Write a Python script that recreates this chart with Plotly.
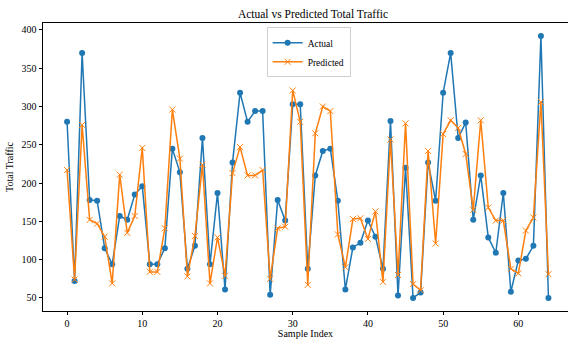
import plotly.graph_objects as go

sample_index = list(range(65))
actual = [280, 72, 370, 178, 177, 115, 94, 157, 152, 185,
          196, 94, 94, 115, 245, 214, 88, 118, 259, 94,
          187, 61, 227, 318, 280, 294, 294, 54, 178, 151,
          303, 303, 88, 210, 242, 245, 177, 61, 116, 122,
          151, 130, 88, 281, 53, 220, 50, 57, 227, 177,
          318, 370, 259, 279, 152, 210, 129, 109, 187, 58,
          99, 101, 118, 392, 50]
predicted = [217, 74, 276, 152, 147, 130, 69, 211, 135, 157,
             246, 84, 84, 141, 296, 232, 78, 131, 224, 69,
             129, 79, 213, 247, 210, 210, 217, 75, 141, 143,
             321, 280, 67, 265, 300, 294, 133, 90, 153, 154,
             127, 163, 71, 257, 80, 278, 68, 60, 242, 121,
             264, 282, 272, 238, 165, 282, 168, 151, 151, 88,
             82, 138, 155, 306, 81]
y_ticks = [50, 100, 150, 200, 250, 300, 350, 400]
x_ticks = [0, 10, 20, 30, 40, 50, 60]

FONT = "Liberation Serif"

fig = go.Figure()
fig.add_trace(go.Scatter(
    x=sample_index, y=actual, name="Actual", mode="lines+markers",
    line=dict(color="#1f77b4", width=1.5),
    marker=dict(symbol="circle", size=6, color="#1f77b4"),
))
fig.add_trace(go.Scatter(
    x=sample_index, y=predicted, name="Predicted", mode="lines+markers",
    line=dict(color="#ff7f0e", width=1.5),
    marker=dict(symbol="x-thin", size=6, color="#ff7f0e",
                line=dict(color="#ff7f0e", width=1)),
))

fig.update_layout(
    width=568, height=339,
    margin=dict(l=43, r=0, t=23, b=28, autoexpand=False),
    paper_bgcolor="white", plot_bgcolor="white",
    font=dict(family=FONT, size=10, color="black"),
    title=dict(text="Actual vs Predicted Total Traffic", x=313 / 568, xanchor="center",
               xref="container", y=1 - 13.5 / 339, yref="container", yanchor="middle",
               font=dict(family=FONT, size=11.5, color="black")),
    legend=dict(x=0.506, y=0.985, xanchor="center", yanchor="top",
                bgcolor="rgba(255,255,255,0.8)", bordercolor="#d0d0d0", borderwidth=1,
                font=dict(family=FONT, size=9.5), tracegroupgap=0,
                itemwidth=30),
    showlegend=True,
)
fig.update_xaxes(
    range=[-3.2, 66.6], tickvals=x_ticks, ticks="outside", ticklen=3.5, tickwidth=0.8,
    tickcolor="black", showline=True, linecolor="black", linewidth=0.8, mirror=True,
    showgrid=False, zeroline=False, automargin=False,
    title=dict(text="Sample Index", font=dict(family=FONT, size=10), standoff=2),
)
fig.update_yaxes(
    range=[32.9, 409.1], tickvals=y_ticks, ticks="outside", ticklen=3.5, tickwidth=0.8,
    tickcolor="black", showline=True, linecolor="black", linewidth=0.8, mirror=True,
    showgrid=False, zeroline=False, automargin=False,
    title=dict(text="Total Traffic", font=dict(family=FONT, size=10), standoff=6),
)

fig.write_html("out.html",
               config={"displayModeBar": False},
               post_script="document.body.style.margin='0';document.body.style.padding='0';")
